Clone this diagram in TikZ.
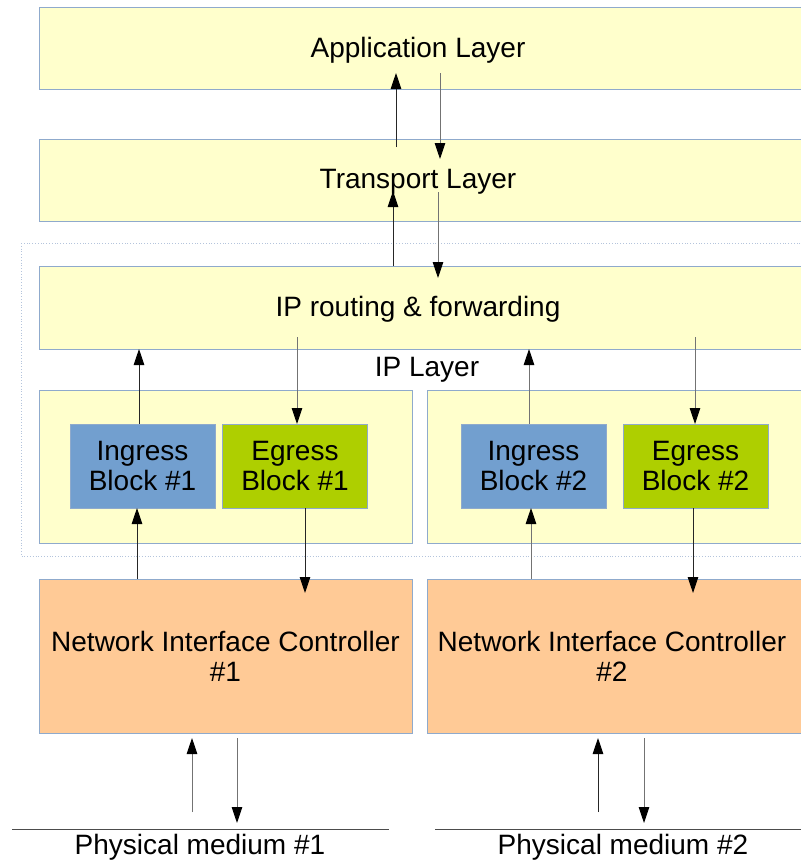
\documentclass[tikz,border=0pt]{standalone}
\usepackage{fontspec}
\setmainfont{Liberation Sans}
\usetikzlibrary{arrows.meta}
\definecolor{lyel}{HTML}{FFFFCC}
\definecolor{bord}{HTML}{8FAACC}
\definecolor{ingc}{HTML}{729FCF}
\definecolor{egrc}{HTML}{AECF00}
\definecolor{nicc}{HTML}{FFCA96}
\definecolor{dotc}{HTML}{B4C4DC}
\begin{document}
\begin{tikzpicture}[x=1pt,y=-1pt,
  every node/.style={font=\fontsize{28}{30}\selectfont, inner sep=0pt, outer sep=0pt, align=center},
  box/.style={draw=bord, line width=0.8pt, fill=lyel},
  ingbox/.style={draw=bord, line width=0.8pt, fill=ingc, minimum width=145pt, minimum height=84pt},
  egrbox/.style={draw=bord, line width=0.8pt, fill=egrc, minimum width=145pt, minimum height=84pt},
  nicbox/.style={draw=bord, line width=0.8pt, fill=nicc, minimum height=154pt},
  arr/.style={draw=black!85, line width=0.9pt, -{Triangle[length=16pt,width=10.5pt,color=black]}},
  garr/.style={draw=black!55, line width=0.9pt, -{Triangle[length=16pt,width=10.5pt,color=black]}}]
\useasboundingbox (0,0) rectangle (801,860);
\fill[white] (0,0) rectangle (801,860);
% dotted IP layer frame
\draw[dotc, dotted, line width=0.8pt] (21,243) rectangle (806,556);
% main layers
\node[box, minimum width=766pt, minimum height=82pt] (app) at (422,48) {};
\node at (418,50) {Application Layer};
\node[box, minimum width=766pt, minimum height=82pt] (trans) at (422,180) {};
\node at (418,182) {Transport Layer};
\node[box, minimum width=766pt, minimum height=83pt] (route) at (422,307.5) {};
\node at (418,309) {IP routing \& forwarding};
\node (ipl) at (427,370) {IP Layer};
% containers
\node[box, minimum width=373pt, minimum height=153pt] (cont1) at (225.5,466.5) {};
\node[box, minimum width=378pt, minimum height=153pt] (cont2) at (616,466.5) {};
\node[ingbox] (ing1) at (142.5,466) {Ingress\\Block \#1};
\node[egrbox] (egr1) at (295,466) {Egress\\Block \#1};
\node[ingbox] (ing2) at (533.5,466) {Ingress\\Block \#2};
\node[egrbox] (egr2) at (695.5,466) {Egress\\Block \#2};
% NICs
\node[nicbox, minimum width=373pt] (nic1) at (225.5,656) {};
\node at (225.5,656) {Network Interface Controller\\\#1};
\node[nicbox, minimum width=378pt] (nic2) at (616,656) {};
\node at (612,656) {Network Interface Controller\\\#2};
% physical media
\coordinate (p1a) at (12,829);
\coordinate (p1b) at (389,829);
\coordinate (p2a) at (435,829);
\coordinate (p2b) at (806,829);
\draw[black!70, line width=0.8pt] (p1a) -- (p1b);
\draw[black!70, line width=0.8pt] (p2a) -- (p2b);
\node (phys1) at (200,847) {Physical medium \#1};
\node (phys2) at (623,847) {Physical medium \#2};
% arrows between app and transport
\coordinate (a1s) at (396,147); \coordinate (a1e) at (396,73);
\coordinate (a2s) at (440,73);  \coordinate (a2e) at (440,159);
\draw[arr] (a1s) -- (a1e);
\draw[garr] (a2s) -- (a2e);
% transport / routing
\coordinate (a3e) at (393,191);
\coordinate (a4s) at (438,192); \coordinate (a4e) at (438,278);
\draw[arr] (a3e |- route.north) -- (a3e);
\draw[garr] (a4s) -- (a4e);
% routing / blocks
\coordinate (a6s) at (297,337);
\coordinate (a8s) at (695,337);
\draw[arr] ([xshift=-3.5pt]ing1.north) -- ([xshift=-3.5pt]ing1.north |- route.south);
\draw[garr] (a6s) -- (a6s |- egr1.north);
\draw[garr] ([xshift=-4.5pt]ing2.north) -- ([xshift=-4.5pt]ing2.north |- route.south);
\draw[garr] (a8s) -- (a8s |- egr2.north);
% blocks / NIC
\coordinate (a10e) at (305,593);
\coordinate (a12e) at (693,593);
\draw[arr] ([xshift=-5.5pt]ing1.south |- nic1.north) -- ([xshift=-5.5pt]ing1.south);
\draw[arr] (a10e |- egr1.south) -- (a10e);
\draw[garr] ([xshift=-2.5pt]ing2.south |- nic2.north) -- ([xshift=-2.5pt]ing2.south);
\draw[arr] (a12e |- egr2.south) -- (a12e);
% NIC / physical medium
\coordinate (a13s) at (192,812); \coordinate (a13e) at (192,738);
\coordinate (a14s) at (237,738); \coordinate (a14e) at (237,823);
\coordinate (a15s) at (598,812); \coordinate (a15e) at (598,738);
\coordinate (a16s) at (644,738); \coordinate (a16e) at (644,823);
\draw[garr] (a13s) -- (a13e);
\draw[garr] (a14s) -- (a14e);
\draw[arr] (a15s) -- (a15e);
\draw[garr] (a16s) -- (a16e);
\end{tikzpicture}
\end{document}
